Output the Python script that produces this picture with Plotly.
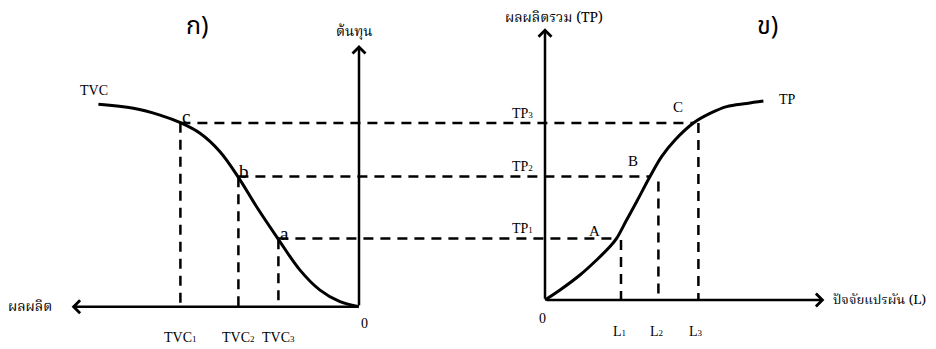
import plotly.graph_objects as go

# ---------------- data (diagram units) ----------------
# Panel ก : TVC curve, output measured to the LEFT of its origin, cost upward
tvc_output = [13.03, 11.28, 9.95, 8.93, 7.95, 6.95, 6.03, 5.12, 4.03, 2.95, 1.95, 0.95, 0.0]
tvc_cost = [10.12, 9.92, 9.58, 9.20, 8.67, 7.75, 6.47, 5.00, 3.37, 1.83, 0.83, 0.25, 0.0]
left_point_names = ["c", "b", "a"]
left_point_output = [8.93, 6.03, 4.03]
left_point_cost = [9.20, 6.47, 3.37]
tvc_tick_labels = ["TVC", "TVC", "TVC"]
tvc_tick_subs = ["1", "2", "3"]

# Panel ข : TP curve against variable input L
tp_labor = [0.0, 0.75, 1.75, 2.58, 3.25, 3.58, 4.08, 4.6, 5.25, 5.83, 6.5, 7.42, 8.25, 9.08, 10.08, 10.92]
tp_total = [0.0, 0.5, 1.25, 2.0, 2.67, 3.08, 4.0, 4.95, 6.17, 7.17, 8.0, 8.85, 9.33, 9.67, 9.83, 9.95]
right_point_names = ["A", "B", "C"]
right_point_labor = [3.58, 5.25, 7.42]
tp_levels = [3.08, 6.17, 8.85]
tp_level_labels = ["TP", "TP", "TP"]
tp_level_subs = ["1", "2", "3"]
l_marks = [3.8, 5.67, 7.67]
l_mark_tops = [3.00, 5.92, 8.85]
l_tick_labels = ["L", "L", "L"]
l_tick_subs = ["1", "2", "3"]

# ---------------- layout constants ----------------
LEFT_ORIGIN_X = -9.3     # left panel origin in the shared frame
LEFT_ORIGIN_Y = -0.335
LEFT_AXIS_UP = 13.09
LEFT_AXIS_OUT = 14.37
RIGHT_AXIS_UP = 13.59
RIGHT_AXIS_OUT = 13.97

SERIF = "Liberation Serif, Times New Roman, serif"
THAI = "Noto Serif Thai, Noto Sans Thai, Liberation Serif, serif"
LW = 2.5
DASH = "10px,7px"


def lx(q):
    return LEFT_ORIGIN_X - q


def ly(c):
    return LEFT_ORIGIN_Y + c


def sub(base, s):
    return base + '<span style="font-size:9px">' + s + "</span>"


fig = go.Figure()

# curves
fig.add_trace(go.Scatter(x=[lx(q) for q in tvc_output], y=[ly(c) for c in tvc_cost],
                         mode="lines", line=dict(color="black", width=3, shape="spline"),
                         hoverinfo="skip"))
fig.add_trace(go.Scatter(x=tp_labor, y=tp_total, mode="lines",
                         line=dict(color="black", width=3, shape="spline"),
                         hoverinfo="skip"))

# dashed verticals (left)
for q, c in zip(left_point_output, left_point_cost):
    fig.add_trace(go.Scatter(x=[lx(q), lx(q)], y=[ly(c), ly(0)], mode="lines",
                             line=dict(color="black", width=LW, dash=DASH), hoverinfo="skip"))
# dashed verticals (right)
for L, top in zip(l_marks, l_mark_tops):
    fig.add_trace(go.Scatter(x=[L, L], y=[top, 0], mode="lines",
                             line=dict(color="black", width=LW, dash=DASH), hoverinfo="skip"))
# dashed horizontals connecting the panels
n = len(tp_levels)
for i in range(n):
    q = left_point_output[n - 1 - i]
    fig.add_trace(go.Scatter(x=[lx(q), right_point_labor[i]], y=[tp_levels[i], tp_levels[i]],
                             mode="lines", line=dict(color="black", width=LW, dash=DASH),
                             hoverinfo="skip"))

ann = []


def arrow(x0, y0, x1, y1):
    ann.append(dict(x=x1, y=y1, ax=x0, ay=y0, xref="x", yref="y", axref="x", ayref="y",
                    text="", showarrow=True, arrowhead=4, arrowsize=1.0,
                    arrowwidth=LW, arrowcolor="black", standoff=0, startstandoff=0))


def label(x, y, text, size=14, family=SERIF, xs=0, ys=0, xa="center", ya="middle", ref="x"):
    ann.append(dict(x=x, y=y, xref=ref, yref="y" if ref == "x" else "paper", text=text,
                    showarrow=False, font=dict(family=family, size=size, color="black"),
                    xshift=xs, yshift=ys, xanchor=xa, yanchor=ya))


# axes
arrow(lx(0), ly(0), lx(0), ly(LEFT_AXIS_UP))
arrow(lx(0), ly(0), lx(LEFT_AXIS_OUT), ly(0))
arrow(0, 0, 0, RIGHT_AXIS_UP)
arrow(0, 0, RIGHT_AXIS_OUT, 0)

# left labels
label(lx(tvc_output[0]), ly(tvc_cost[0]), "TVC", xs=-4, ys=14)
for name, q, c in zip(left_point_names, left_point_output, left_point_cost):
    label(lx(q), ly(c), name, size=19, xs=6, ys=6)
for t, s, q in zip(tvc_tick_labels, tvc_tick_subs, left_point_output):
    label(lx(q), ly(0), sub(t, s), xs=0, ys=-31)
label(lx(0), ly(0), "0", xs=5, ys=-17)
label(lx(0), ly(LEFT_AXIS_UP), "ต้นทุน", family=THAI, xs=-5, ys=13)
label(lx(LEFT_AXIS_OUT), ly(0), "ผลผลิต", family=THAI, xs=-18, xa="right")

# right labels
label(tp_labor[-1], tp_total[-1], "TP", xs=24, ys=2)
shifts = [(-22, 7), (-17, 16), (-15, 16)]
for name, L, lev, (sx, sy) in zip(right_point_names, right_point_labor, tp_levels, shifts):
    label(L, lev, name, size=15, xs=sx, ys=sy)
for t, s, lev in zip(tp_level_labels, tp_level_subs, tp_levels):
    label(0, lev, sub(t, s), xs=-23, ys=10)
for t, s, L in zip(l_tick_labels, l_tick_subs, l_marks):
    label(L, 0, sub(t, s), xs=-2, ys=-31)
label(0, 0, "0", xs=-3, ys=-18)
label(0, RIGHT_AXIS_UP, "ผลผลิตรวม (TP)", family=THAI, xs=9, ys=10)
label(RIGHT_AXIS_OUT, 0, "ปัจจัยแปรผัน (L)", family=THAI, size=13.2, xs=7, xa="left")

# panel titles
label(0.2047, 0.9472, "ก)", size=25, family="Noto Sans Thai, Noto Sans, sans-serif", ref="paper")
label(0.8179, 0.9472, "ข)", size=25, family="Noto Sans Thai, Noto Sans, sans-serif", ref="paper")

# the page body adds an 8px margin, so the figure is sized to end at the window edge
fig.update_layout(
    width=928, height=341,
    margin=dict(l=0, r=0, t=0, b=0),
    paper_bgcolor="white", plot_bgcolor="white",
    showlegend=False,
    xaxis=dict(range=[-26.85, 19.55], visible=False, fixedrange=True),
    yaxis=dict(range=[-2.45, 14.6], visible=False, fixedrange=True),
    annotations=ann,
)

fig.write_html("out.html")
